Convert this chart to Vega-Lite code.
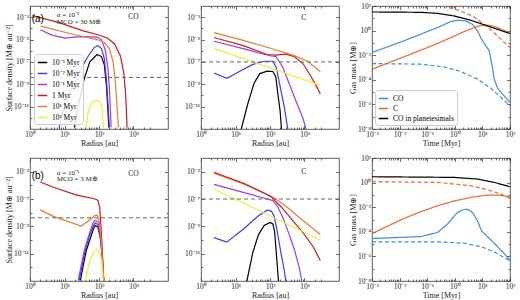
{
"$schema":"https://vega.github.io/schema/vega-lite/v6.json",
"padding":{"left":5,"top":1,"right":2,"bottom":0},
"bounds":"flush",
"columns":3,
"spacing":{"row":29,"column":33},
"resolve":{"scale":{"x":"independent","y":"independent","color":"independent","strokeDash":"independent"},"axis":{"x":"independent","y":"independent"},"legend":{"color":"independent"}},
"config":{
 "font":"Liberation Serif",
 "view":{"stroke":"#333","strokeWidth":0.8},
 "axis":{"labelFont":"Liberation Serif","titleFont":"Liberation Serif","labelFontSize":7.5,"titleFontSize":8,"titleFontWeight":"normal","domain":false,"grid":false,"tickColor":"#333","tickWidth":0.7,"labelPadding":5,"titlePadding":0,"labelColor":"#222","titleColor":"#222","labelFlush":false,"labelOverlap":false},
 "legend":{"labelFont":"Liberation Serif","labelFontSize":7.5,"symbolType":"stroke","symbolStrokeWidth":1.5,"symbolSize":90,"fillColor":"rgba(255,255,255,0.85)","strokeColor":"#ccc","padding":3,"cornerRadius":3,"rowPadding":2,"labelOffset":4,"orient":"none"}
},
"datasets":{
 "p1":[
  {"s":"10⁻³ Myr","r":19.3,"v":1.35e-13},{"s":"10⁻³ Myr","r":24.8,"v":1e-11},{"s":"10⁻³ Myr","r":36.6,"v":2.5e-9},{"s":"10⁻³ Myr","r":54,"v":1e-7},{"s":"10⁻³ Myr","r":88,"v":4.6e-7},{"s":"10⁻³ Myr","r":118,"v":3e-7},{"s":"10⁻³ Myr","r":143,"v":5.4e-8},{"s":"10⁻³ Myr","r":164,"v":7.4e-10},{"s":"10⁻³ Myr","r":181,"v":5.4e-12},{"s":"10⁻³ Myr","r":192,"v":1.35e-13},
  {"s":"10⁻² Myr","r":7.0,"v":1.35e-13},{"s":"10⁻² Myr","r":9.4,"v":5.4e-12},{"s":"10⁻² Myr","r":15.3,"v":2.15e-10},{"s":"10⁻² Myr","r":27.4,"v":1.58e-8},{"s":"10⁻² Myr","r":49,"v":3.4e-7},{"s":"10⁻² Myr","r":72.4,"v":1.9e-6},{"s":"10⁻² Myr","r":91.4,"v":2.93e-6},{"s":"10⁻² Myr","r":118,"v":1.58e-6},{"s":"10⁻² Myr","r":143,"v":1.85e-7},{"s":"10⁻² Myr","r":164,"v":2.5e-9},{"s":"10⁻² Myr","r":184,"v":1e-11},{"s":"10⁻² Myr","r":199,"v":1.35e-13},
  {"s":"10⁻¹ Myr","r":1.98,"v":7.6e-5},{"s":"10⁻¹ Myr","r":4.3,"v":2.5e-5},{"s":"10⁻¹ Myr","r":10.3,"v":1.36e-5},{"s":"10⁻¹ Myr","r":18.5,"v":1.63e-5},{"s":"10⁻¹ Myr","r":36.6,"v":1.85e-5},{"s":"10⁻¹ Myr","r":88,"v":1.63e-5},{"s":"10⁻¹ Myr","r":118,"v":1e-5},{"s":"10⁻¹ Myr","r":152,"v":1.17e-6},{"s":"10⁻¹ Myr","r":181,"v":2.9e-8},{"s":"10⁻¹ Myr","r":203,"v":2.15e-10},{"s":"10⁻¹ Myr","r":224,"v":1.35e-13},
  {"s":"1 Myr","r":1.17,"v":1.36e-3},{"s":"1 Myr","r":7.0,"v":3.3e-4},{"s":"1 Myr","r":33.2,"v":6.3e-5},{"s":"1 Myr","r":88,"v":2.84e-5},{"s":"1 Myr","r":174,"v":1.36e-5},{"s":"1 Myr","r":283,"v":4e-6},{"s":"1 Myr","r":417,"v":3.4e-7},{"s":"1 Myr","r":527,"v":8.6e-9},{"s":"1 Myr","r":593,"v":1.17e-10},{"s":"1 Myr","r":653,"v":1.35e-13},
  {"s":"10¹ Myr","r":2.05,"v":1.58e-4},{"s":"10¹ Myr","r":18.5,"v":2.84e-5},{"s":"10¹ Myr","r":88,"v":1e-5},{"s":"10¹ Myr","r":143,"v":5.4e-6},{"s":"10¹ Myr","r":199,"v":1.58e-6},{"s":"10¹ Myr","r":257,"v":1e-7},{"s":"10¹ Myr","r":300,"v":1.36e-9},{"s":"10¹ Myr","r":330,"v":1.85e-11},{"s":"10¹ Myr","r":364,"v":1.35e-13},
  {"s":"10² Myr","r":42,"v":1.35e-13},{"s":"10² Myr","r":49,"v":4e-12},{"s":"10² Myr","r":62,"v":2.1e-11},{"s":"10² Myr","r":88,"v":3.9e-11},{"s":"10² Myr","r":113,"v":2.1e-11},{"s":"10² Myr","r":125,"v":4e-12},{"s":"10² Myr","r":135,"v":1.35e-13}
 ],
 "p2":[
  {"s":"10⁻³ Myr","r":14.7,"v":9.8e-14},{"s":"10⁻³ Myr","r":22.4,"v":1.56e-11},{"s":"10⁻³ Myr","r":34.8,"v":1.33e-9},{"s":"10⁻³ Myr","r":51,"v":9e-9},{"s":"10⁻³ Myr","r":82.5,"v":1.49e-8},{"s":"10⁻³ Myr","r":121,"v":1.4e-8},{"s":"10⁻³ Myr","r":147,"v":4.7e-9},{"s":"10⁻³ Myr","r":171,"v":1.05e-10},{"s":"10⁻³ Myr","r":196,"v":4.4e-12},{"s":"10⁻³ Myr","r":215,"v":9.8e-14},
  {"s":"10⁻² Myr","r":2.37,"v":1.02e-8},{"s":"10⁻² Myr","r":5.6,"v":3.45e-9},{"s":"10⁻² Myr","r":14.7,"v":1.69e-8},{"s":"10⁻² Myr","r":31.6,"v":6e-8},{"s":"10⁻² Myr","r":68,"v":1.14e-7},{"s":"10⁻² Myr","r":121,"v":1.14e-7},{"s":"10⁻² Myr","r":152,"v":3.2e-8},{"s":"10⁻² Myr","r":196,"v":7e-10},{"s":"10⁻² Myr","r":261,"v":8.3e-12},{"s":"10⁻² Myr","r":329,"v":9.8e-14},
  {"s":"10⁻¹ Myr","r":2.37,"v":7e-6},{"s":"10⁻¹ Myr","r":17.8,"v":1.44e-6},{"s":"10⁻¹ Myr","r":100,"v":3.56e-7},{"s":"10⁻¹ Myr","r":152,"v":2.9e-7},{"s":"10⁻¹ Myr","r":237,"v":3.2e-8},{"s":"10⁻¹ Myr","r":383,"v":7e-10},{"s":"10⁻¹ Myr","r":619,"v":1.56e-11},{"s":"10⁻¹ Myr","r":908,"v":8.9e-13},{"s":"10⁻¹ Myr","r":1101,"v":9.8e-14},
  {"s":"1 Myr","r":2.37,"v":1.51e-5},{"s":"1 Myr","r":17.8,"v":2.7e-6},{"s":"1 Myr","r":82.5,"v":4.6e-7},{"s":"1 Myr","r":147,"v":4e-7},{"s":"1 Myr","r":287,"v":4.9e-7},{"s":"1 Myr","r":511,"v":2.9e-7},{"s":"1 Myr","r":908,"v":6.8e-8},{"s":"1 Myr","r":1468,"v":6.5e-9},{"s":"1 Myr","r":2154,"v":8e-10},{"s":"1 Myr","r":2873,"v":1.44e-10},
  {"s":"10¹ Myr","r":2.37,"v":4.2e-5},{"s":"10¹ Myr","r":17.8,"v":8e-6},{"s":"10¹ Myr","r":121,"v":1.44e-6},{"s":"10¹ Myr","r":464,"v":4e-7},{"s":"10¹ Myr","r":1211,"v":1.14e-7},{"s":"10¹ Myr","r":2873,"v":1.4e-8},
  {"s":"10² Myr","r":2.37,"v":1.64e-6},{"s":"10² Myr","r":2873,"v":8e-10}
 ],
 "p4":[
  {"s":"10⁻³ Myr","r":28.7,"v":1.1e-13},{"s":"10⁻³ Myr","r":42.4,"v":1.56e-11},{"s":"10⁻³ Myr","r":56.8,"v":1.45e-10},{"s":"10⁻³ Myr","r":70.3,"v":7.4e-10},{"s":"10⁻³ Myr","r":77.6,"v":1.16e-9},{"s":"10⁻³ Myr","r":92.5,"v":9.1e-10},{"s":"10⁻³ Myr","r":108,"v":1.86e-10},{"s":"10⁻³ Myr","r":122,"v":1.56e-11},{"s":"10⁻³ Myr","r":137,"v":1.1e-13},
  {"s":"10⁻² Myr","r":26.5,"v":1.1e-13},{"s":"10⁻² Myr","r":39.2,"v":1.56e-11},{"s":"10⁻² Myr","r":52.5,"v":1.86e-10},{"s":"10⁻² Myr","r":70.3,"v":1.22e-9},{"s":"10⁻² Myr","r":77.6,"v":1.73e-9},{"s":"10⁻² Myr","r":92.5,"v":1.35e-9},{"s":"10⁻² Myr","r":108,"v":2.4e-10},{"s":"10⁻² Myr","r":119,"v":1.56e-11},{"s":"10⁻² Myr","r":137,"v":1.1e-13},
  {"s":"10⁻¹ Myr","r":25,"v":1.1e-13},{"s":"10⁻¹ Myr","r":37,"v":1.56e-11},{"s":"10⁻¹ Myr","r":49.5,"v":1.86e-10},{"s":"10⁻¹ Myr","r":66.4,"v":1.73e-9},{"s":"10⁻¹ Myr","r":76,"v":2.83e-9},{"s":"10⁻¹ Myr","r":92.5,"v":2.2e-9},{"s":"10⁻¹ Myr","r":108,"v":3.05e-10},{"s":"10⁻¹ Myr","r":119,"v":1.56e-11},{"s":"10⁻¹ Myr","r":137,"v":1.1e-13},
  {"s":"1 Myr","r":1.98,"v":1.77e-6},{"s":"1 Myr","r":4.76,"v":7.2e-7},{"s":"1 Myr","r":22.7,"v":1.9e-7},{"s":"1 Myr","r":73,"v":1.05e-7},{"s":"1 Myr","r":92.5,"v":8.2e-8},{"s":"1 Myr","r":104,"v":2.63e-8},{"s":"1 Myr","r":112,"v":2.2e-9},{"s":"1 Myr","r":122,"v":4.2e-11},{"s":"1 Myr","r":137,"v":1.1e-13},
  {"s":"10¹ Myr","r":1.98,"v":1.6e-8},{"s":"10¹ Myr","r":4.76,"v":5.4e-9},{"s":"10¹ Myr","r":30.4,"v":1.05e-9},{"s":"10¹ Myr","r":49.5,"v":2.44e-9},{"s":"10¹ Myr","r":73,"v":5.9e-9},{"s":"10¹ Myr","r":89,"v":6.6e-9},{"s":"10¹ Myr","r":102,"v":2.2e-9},{"s":"10¹ Myr","r":115,"v":1.13e-10},{"s":"10¹ Myr","r":126,"v":3.5e-12},{"s":"10¹ Myr","r":137,"v":1.1e-13},
  {"s":"10² Myr","r":40.7,"v":1.1e-13},{"s":"10² Myr","r":54.6,"v":3.5e-12},{"s":"10² Myr","r":73,"v":1.56e-11},{"s":"10² Myr","r":89,"v":2e-11},{"s":"10² Myr","r":108,"v":9.5e-12},{"s":"10² Myr","r":122,"v":2.15e-12},{"s":"10² Myr","r":131,"v":1.1e-13}
 ],
 "p5":[
  {"s":"10⁻³ Myr","r":20.7,"v":6.9e-14},{"s":"10⁻³ Myr","r":31.6,"v":1.17e-11},{"s":"10⁻³ Myr","r":46.4,"v":2.5e-10},{"s":"10⁻³ Myr","r":68,"v":1.17e-9},{"s":"10⁻³ Myr","r":100,"v":1.95e-9},{"s":"10⁻³ Myr","r":121,"v":1.5e-9},{"s":"10⁻³ Myr","r":136,"v":4.2e-10},{"s":"10⁻³ Myr","r":152,"v":1.17e-11},{"s":"10⁻³ Myr","r":178,"v":6.9e-14},
  {"s":"10⁻² Myr","r":2.37,"v":1.5e-10},{"s":"10⁻² Myr","r":5.6,"v":7e-11},{"s":"10⁻² Myr","r":17.8,"v":7e-10},{"s":"10⁻² Myr","r":46.4,"v":6e-9},{"s":"10⁻² Myr","r":82.5,"v":1.5e-8},{"s":"10⁻² Myr","r":110,"v":1.29e-8},{"s":"10⁻² Myr","r":133,"v":5.4e-9},{"s":"10⁻² Myr","r":162,"v":4.2e-10},{"s":"10⁻² Myr","r":207,"v":1.17e-11},{"s":"10⁻² Myr","r":261,"v":5.4e-13},{"s":"10⁻² Myr","r":293,"v":6.9e-14},
  {"s":"10⁻¹ Myr","r":2.37,"v":1.17e-6},{"s":"10⁻¹ Myr","r":17.8,"v":2.9e-7},{"s":"10⁻¹ Myr","r":82.5,"v":1e-7},{"s":"10⁻¹ Myr","r":121,"v":7.7e-8},{"s":"10⁻¹ Myr","r":162,"v":3.2e-8},{"s":"10⁻¹ Myr","r":237,"v":4.2e-9},{"s":"10⁻¹ Myr","r":348,"v":3.2e-10},{"s":"10⁻¹ Myr","r":511,"v":1.95e-11},{"s":"10⁻¹ Myr","r":708,"v":9e-13},{"s":"10⁻¹ Myr","r":826,"v":1.17e-13},
  {"s":"10¹ Myr","r":2.37,"v":7.7e-6},{"s":"10¹ Myr","r":17.8,"v":1.23e-6},{"s":"10¹ Myr","r":82.5,"v":2.15e-7},{"s":"10¹ Myr","r":147,"v":1.05e-7},{"s":"10¹ Myr","r":316,"v":2.5e-8},{"s":"10¹ Myr","r":826,"v":3.2e-9},{"s":"10¹ Myr","r":2873,"v":2.5e-10},
  {"s":"1 Myr","r":2.37,"v":9e-6},{"s":"1 Myr","r":17.8,"v":1.36e-6},{"s":"1 Myr","r":82.5,"v":2.15e-7},{"s":"1 Myr","r":110,"v":1.43e-7},{"s":"1 Myr","r":215,"v":2.5e-8},{"s":"1 Myr","r":464,"v":2.5e-9},{"s":"1 Myr","r":1000,"v":2.5e-10},{"s":"1 Myr","r":1778,"v":3.2e-11},{"s":"1 Myr","r":2873,"v":3.2e-12},
  {"s":"10² Myr","r":2.37,"v":5.4e-7},{"s":"10² Myr","r":2873,"v":1e-10}
 ],
 "p3":[
  {"s":"CO","d":"solid","t":0.001,"m":0.0164},{"s":"CO","d":"solid","t":0.0142,"m":0.145},{"s":"CO","d":"solid","t":0.233,"m":1.75},{"s":"CO","d":"solid","t":0.71,"m":5.4},{"s":"CO","d":"solid","t":1.24,"m":6.9},{"s":"CO","d":"solid","t":2.5,"m":6.1},{"s":"CO","d":"solid","t":4.38,"m":3.27},{"s":"CO","d":"solid","t":6.65,"m":0.94},{"s":"CO","d":"solid","t":9.3,"m":0.198},{"s":"CO","d":"solid","t":13.4,"m":0.057},{"s":"CO","d":"solid","t":17.7,"m":0.0224},{"s":"CO","d":"solid","t":21.5,"m":2.5e-3},{"s":"CO","d":"solid","t":26.9,"m":1.13e-4},{"s":"CO","d":"solid","t":35.6,"m":2.1e-5},{"s":"CO","d":"solid","t":54,"m":6.9e-6},{"s":"CO","d":"solid","t":100,"m":1.45e-6},
  {"s":"CO","d":"dashed","t":0.001,"m":2.1e-3},{"s":"CO","d":"dashed","t":0.0575,"m":1.86e-3},{"s":"CO","d":"dashed","t":0.406,"m":1.13e-3},{"s":"CO","d":"dashed","t":1.64,"m":4.7e-4},{"s":"CO","d":"dashed","t":6.65,"m":1.13e-4},{"s":"CO","d":"dashed","t":20.3,"m":2.1e-5},{"s":"CO","d":"dashed","t":47,"m":3.7e-6},{"s":"CO","d":"dashed","t":100,"m":7.8e-7},
  {"s":"C","d":"solid","t":0.001,"m":7.3e-4},{"s":"C","d":"solid","t":0.0142,"m":7.3e-3},{"s":"C","d":"solid","t":0.233,"m":0.088},{"s":"C","d":"solid","t":2.17,"m":0.83},{"s":"C","d":"solid","t":6.65,"m":2.24},{"s":"C","d":"solid","t":13.4,"m":2.88},{"s":"C","d":"solid","t":26.9,"m":2.24},{"s":"C","d":"solid","t":100,"m":0.65},
  {"s":"C","d":"dashed","t":0.133,"m":254},{"s":"C","d":"dashed","t":0.54,"m":83},{"s":"C","d":"dashed","t":1.64,"m":39},{"s":"C","d":"dashed","t":5.0,"m":12.8},{"s":"C","d":"dashed","t":15.4,"m":1.98},{"s":"C","d":"dashed","t":41,"m":0.27},{"s":"C","d":"dashed","t":100,"m":0.042},
  {"s":"CO in planetesimals","d":"solid","t":0.001,"m":32.7},{"s":"CO in planetesimals","d":"solid","t":0.0575,"m":30.6},{"s":"CO in planetesimals","d":"solid","t":0.233,"m":25.4},{"s":"CO in planetesimals","d":"solid","t":0.94,"m":15.5},{"s":"CO in planetesimals","d":"solid","t":3.8,"m":6.9},{"s":"CO in planetesimals","d":"solid","t":15.4,"m":2.39},{"s":"CO in planetesimals","d":"solid","t":100,"m":0.57}
 ],
 "p6":[
  {"s":"CO","d":"solid","t":0.001,"m":2.8e-5},{"s":"CO","d":"solid","t":0.0575,"m":4.1e-5},{"s":"CO","d":"solid","t":0.233,"m":8.7e-5},{"s":"CO","d":"solid","t":0.54,"m":4.2e-4},{"s":"CO","d":"solid","t":1.08,"m":2.7e-3},{"s":"CO","d":"solid","t":1.7,"m":5.5e-3},{"s":"CO","d":"solid","t":2.5,"m":6.9e-3},{"s":"CO","d":"solid","t":3.5,"m":5.5e-3},{"s":"CO","d":"solid","t":4.38,"m":3.7e-3},{"s":"CO","d":"solid","t":6.65,"m":7.8e-4},{"s":"CO","d":"solid","t":9.3,"m":1.19e-4},{"s":"CO","d":"solid","t":13.4,"m":5.3e-5},{"s":"CO","d":"solid","t":26.9,"m":1.18e-5},{"s":"CO","d":"solid","t":54,"m":2.3e-6},{"s":"CO","d":"solid","t":100,"m":4.8e-7},
  {"s":"CO","d":"dashed","t":0.001,"m":1.51e-5},{"s":"CO","d":"dashed","t":0.233,"m":1.51e-5},{"s":"CO","d":"dashed","t":2.17,"m":1.18e-5},{"s":"CO","d":"dashed","t":8.8,"m":6.3e-6},{"s":"CO","d":"dashed","t":26.9,"m":2.3e-6},{"s":"CO","d":"dashed","t":100,"m":4.3e-7},
  {"s":"C","d":"solid","t":0.001,"m":7.2e-5},{"s":"C","d":"solid","t":0.0142,"m":1.21e-3},{"s":"C","d":"solid","t":0.0575,"m":4.2e-3},{"s":"C","d":"solid","t":0.233,"m":0.013},{"s":"C","d":"solid","t":1,"m":0.033},{"s":"C","d":"solid","t":3.8,"m":0.062},{"s":"C","d":"solid","t":15.4,"m":0.096},{"s":"C","d":"solid","t":41,"m":0.096},{"s":"C","d":"solid","t":100,"m":0.07},
  {"s":"C","d":"dashed","t":0.001,"m":1.18},{"s":"C","d":"dashed","t":0.233,"m":1.04},{"s":"C","d":"dashed","t":3.8,"m":0.56},{"s":"C","d":"dashed","t":15.4,"m":0.26},{"s":"C","d":"dashed","t":47,"m":0.116},{"s":"C","d":"dashed","t":100,"m":0.052},
  {"s":"CO in planetesimals","d":"solid","t":0.001,"m":3.0},{"s":"CO in planetesimals","d":"solid","t":0.94,"m":2.65},{"s":"CO in planetesimals","d":"solid","t":6.65,"m":1.94},{"s":"CO in planetesimals","d":"solid","t":26.9,"m":1.04},{"s":"CO in planetesimals","d":"solid","t":100,"m":0.46}
 ]
},
"concat":[
 {"width":138,"height":123,"resolve":{"axis":{"x":"independent","y":"independent"}},"layer":[
  {"data":{"name":"p1"},"mark":{"type":"line","clip":true,"strokeWidth":1.2},
   "encoding":{
    "x":{"field":"r","type":"quantitative","scale":{"type":"log","domain":[1,3100]},"axis":{"values":[1,2,3,4,5,6,7,8,9,10,20,30,40,50,60,70,80,90,100,200,300,400,500,600,700,800,900,1000,2000,3000],"title":"Radius [au]","tickSize":{"condition":{"test":"abs(log(datum.value)/LN10 - round(log(datum.value)/LN10)) < 0.001","value":-3.5},"value":-2},"labelExpr":"abs(log(datum.value)/LN10 - round(log(datum.value)/LN10)) < 0.001 ? '10' + replace(replace(replace(replace(replace(replace(replace(replace(replace(replace(replace('' + round(log(datum.value)/LN10), '-', '⁻'), regexp('1','g'), '¹'), '0', '⁰'), '2', '²'), '3', '³'), '4', '⁴'), '5', '⁵'), '6', '⁶'), '7', '⁷'), '8', '⁸'), '9', '⁹') : ''"}},
    "y":{"field":"v","type":"quantitative","scale":{"type":"log","domain":[3.2e-13,3.2e-3]},"axis":{"values":[1e-3,1e-4,1e-5,1e-6,1e-7,1e-8,1e-9,1e-10,1e-11,1e-12],"title":"Surface density [M⊕ au⁻²]","tickSize":{"condition":{"test":"round(log(datum.value)/LN10) % 2 != 0","value":-3.5},"value":-2},"labelExpr":"round(log(datum.value)/LN10) % 2 != 0 ? '10' + replace(replace(replace(replace(replace(replace(replace(replace(replace(replace(replace('' + round(log(datum.value)/LN10), '-', '⁻'), regexp('1','g'), '¹'), '0', '⁰'), '2', '²'), '3', '³'), '4', '⁴'), '5', '⁵'), '6', '⁶'), '7', '⁷'), '8', '⁸'), '9', '⁹') : ''"}},
    "color":{"field":"s","type":"nominal","scale":{"domain":["10⁻³ Myr","10⁻² Myr","10⁻¹ Myr","1 Myr","10¹ Myr","10² Myr"],"range":["#000000","#3c3cf0","#9a3cf0","#c81e1e","#f07a30","#f2ee3c"]},"legend":{"title":null,"orient":"none","legendX":4,"legendY":48}}
   }},
  {"data":{"name":"p1"},"mark":{"type":"point","opacity":0,"clip":true},
   "encoding":{
    "x":{"field":"r","type":"quantitative","axis":{"orient":"top","values":[1,2,3,4,5,6,7,8,9,10,20,30,40,50,60,70,80,90,100,200,300,400,500,600,700,800,900,1000,2000,3000],"title":null,"labels":false,"tickSize":{"condition":{"test":"abs(log(datum.value)/LN10 - round(log(datum.value)/LN10)) < 0.001","value":-3.5},"value":-2}}},
    "y":{"field":"v","type":"quantitative","axis":{"orient":"right","values":[1e-3,1e-4,1e-5,1e-6,1e-7,1e-8,1e-9,1e-10,1e-11,1e-12],"title":null,"labels":false,"tickSize":{"condition":{"test":"round(log(datum.value)/LN10) % 2 != 0","value":-3.5},"value":-2}}}
   }},
  {"data":{"values":[{"v":4.1e-9}]},"mark":{"type":"rule","strokeDash":[4,3],"color":"#666","strokeWidth":1},"encoding":{"y":{"field":"v","type":"quantitative","axis":null}}},
  {"data":{"values":[{"r":1.12,"v":7e-4,"txt":"(a)"}]},"mark":{"type":"text","font":"Liberation Sans","fontSize":10,"align":"left","baseline":"middle"},"encoding":{"x":{"field":"r","type":"quantitative","axis":null},"y":{"field":"v","type":"quantitative","axis":null},"text":{"field":"txt"}}},
  {"data":{"values":[{"r":6,"v":1.5e-3,"txt":"α = 10⁻¹"},{"r":6,"v":3.9e-4,"txt":"MCO = 30 M⊕"}]},"mark":{"type":"text","fontSize":7,"align":"left","baseline":"middle","color":"#222"},"encoding":{"x":{"field":"r","type":"quantitative","axis":null},"y":{"field":"v","type":"quantitative","axis":null},"text":{"field":"txt"}}},
  {"data":{"values":[{"r":1410,"v":1.1e-3,"txt":"CO"}]},"mark":{"type":"text","fontSize":7.5,"align":"right","baseline":"middle","color":"#222"},"encoding":{"x":{"field":"r","type":"quantitative","axis":null},"y":{"field":"v","type":"quantitative","axis":null},"text":{"field":"txt"}}}
 ]},
 {"width":138,"height":123,"resolve":{"axis":{"x":"independent","y":"independent"}},"layer":[
  {"data":{"name":"p2"},"mark":{"type":"line","clip":true,"strokeWidth":1.2},
   "encoding":{
    "x":{"field":"r","type":"quantitative","scale":{"type":"log","domain":[1,3100]},"axis":{"values":[1,2,3,4,5,6,7,8,9,10,20,30,40,50,60,70,80,90,100,200,300,400,500,600,700,800,900,1000,2000,3000],"title":"Radius [au]","tickSize":{"condition":{"test":"abs(log(datum.value)/LN10 - round(log(datum.value)/LN10)) < 0.001","value":-3.5},"value":-2},"labelExpr":"abs(log(datum.value)/LN10 - round(log(datum.value)/LN10)) < 0.001 ? '10' + replace(replace(replace(replace(replace(replace(replace(replace(replace(replace(replace('' + round(log(datum.value)/LN10), '-', '⁻'), regexp('1','g'), '¹'), '0', '⁰'), '2', '²'), '3', '³'), '4', '⁴'), '5', '⁵'), '6', '⁶'), '7', '⁷'), '8', '⁸'), '9', '⁹') : ''"}},
    "y":{"field":"v","type":"quantitative","scale":{"type":"log","domain":[3.2e-13,3.2e-3]},"axis":{"values":[1e-3,1e-4,1e-5,1e-6,1e-7,1e-8,1e-9,1e-10,1e-11,1e-12],"title":null,"tickSize":{"condition":{"test":"round(log(datum.value)/LN10) % 2 != 0","value":-3.5},"value":-2},"labelExpr":"round(log(datum.value)/LN10) % 2 != 0 ? '10' + replace(replace(replace(replace(replace(replace(replace(replace(replace(replace(replace('' + round(log(datum.value)/LN10), '-', '⁻'), regexp('1','g'), '¹'), '0', '⁰'), '2', '²'), '3', '³'), '4', '⁴'), '5', '⁵'), '6', '⁶'), '7', '⁷'), '8', '⁸'), '9', '⁹') : ''"}},
    "color":{"field":"s","type":"nominal","scale":{"domain":["10⁻³ Myr","10⁻² Myr","10⁻¹ Myr","1 Myr","10¹ Myr","10² Myr"],"range":["#000000","#3c3cf0","#9a3cf0","#c81e1e","#f07a30","#f2ee3c"]},"legend":null}
   }},
  {"data":{"name":"p2"},"mark":{"type":"point","opacity":0,"clip":true},
   "encoding":{
    "x":{"field":"r","type":"quantitative","axis":{"orient":"top","values":[1,2,3,4,5,6,7,8,9,10,20,30,40,50,60,70,80,90,100,200,300,400,500,600,700,800,900,1000,2000,3000],"title":null,"labels":false,"tickSize":{"condition":{"test":"abs(log(datum.value)/LN10 - round(log(datum.value)/LN10)) < 0.001","value":-3.5},"value":-2}}},
    "y":{"field":"v","type":"quantitative","axis":{"orient":"right","values":[1e-3,1e-4,1e-5,1e-6,1e-7,1e-8,1e-9,1e-10,1e-11,1e-12],"title":null,"labels":false,"tickSize":{"condition":{"test":"round(log(datum.value)/LN10) % 2 != 0","value":-3.5},"value":-2}}}
   }},
  {"data":{"values":[{"v":1e-7}]},"mark":{"type":"rule","strokeDash":[4,3],"color":"#666","strokeWidth":1},"encoding":{"y":{"field":"v","type":"quantitative","axis":null}}},
  {"data":{"values":[{"r":1120,"v":8.5e-4,"txt":"C"}]},"mark":{"type":"text","fontSize":7.5,"align":"right","baseline":"middle","color":"#222"},"encoding":{"x":{"field":"r","type":"quantitative","axis":null},"y":{"field":"v","type":"quantitative","axis":null},"text":{"field":"txt"}}}
 ]},
 {"width":138,"height":123,"resolve":{"axis":{"x":"independent","y":"independent"}},"layer":[
  {"data":{"name":"p3"},"mark":{"type":"line","clip":true,"strokeWidth":1.2},
   "encoding":{
    "x":{"field":"t","type":"quantitative","scale":{"type":"log","domain":[0.001,100]},"axis":{"values":[0.001,0.002,0.003,0.004,0.005,0.006,0.007,0.008,0.009,0.01,0.02,0.03,0.04,0.05,0.06,0.07,0.08,0.09,0.1,0.2,0.3,0.4,0.5,0.6,0.7,0.8,0.9,1,2,3,4,5,6,7,8,9,10,20,30,40,50,60,70,80,90,100],"title":"Time [Myr]","tickSize":{"condition":{"test":"abs(log(datum.value)/LN10 - round(log(datum.value)/LN10)) < 0.001","value":-3.5},"value":-2},"labelExpr":"abs(log(datum.value)/LN10 - round(log(datum.value)/LN10)) < 0.001 ? '10' + replace(replace(replace(replace(replace(replace(replace(replace(replace(replace(replace('' + round(log(datum.value)/LN10), '-', '⁻'), regexp('1','g'), '¹'), '0', '⁰'), '2', '²'), '3', '³'), '4', '⁴'), '5', '⁵'), '6', '⁶'), '7', '⁷'), '8', '⁸'), '9', '⁹') : ''"}},
    "y":{"field":"m","type":"quantitative","scale":{"type":"log","domain":[1e-8,100]},"axis":{"values":[100,10,1,0.1,0.01,1e-3,1e-4,1e-5,1e-6,1e-7,1e-8],"title":"Gas mass [M⊕]","tickSize":{"condition":{"test":"round(log(datum.value)/LN10) % 2 == 0","value":-3.5},"value":-2},"labelExpr":"round(log(datum.value)/LN10) % 2 == 0 ? '10' + replace(replace(replace(replace(replace(replace(replace(replace(replace(replace(replace('' + round(log(datum.value)/LN10), '-', '⁻'), regexp('1','g'), '¹'), '0', '⁰'), '2', '²'), '3', '³'), '4', '⁴'), '5', '⁵'), '6', '⁶'), '7', '⁷'), '8', '⁸'), '9', '⁹') : ''"}},
    "color":{"field":"s","type":"nominal","scale":{"domain":["CO","C","CO in planetesimals"],"range":["#3d8de0","#f0662e","#000000"]},"legend":{"title":null,"orient":"none","legendX":3,"legendY":84,"rowPadding":1}},
    "strokeDash":{"field":"d","type":"nominal","scale":{"domain":["solid","dashed"],"range":[[1,0],[4,2.5]]},"legend":null}
   }},
  {"data":{"name":"p3"},"mark":{"type":"point","opacity":0,"clip":true},
   "encoding":{
    "x":{"field":"t","type":"quantitative","axis":{"orient":"top","values":[0.001,0.002,0.003,0.004,0.005,0.006,0.007,0.008,0.009,0.01,0.02,0.03,0.04,0.05,0.06,0.07,0.08,0.09,0.1,0.2,0.3,0.4,0.5,0.6,0.7,0.8,0.9,1,2,3,4,5,6,7,8,9,10,20,30,40,50,60,70,80,90,100],"title":null,"labels":false,"tickSize":{"condition":{"test":"abs(log(datum.value)/LN10 - round(log(datum.value)/LN10)) < 0.001","value":-3.5},"value":-2}}},
    "y":{"field":"m","type":"quantitative","axis":{"orient":"right","values":[100,10,1,0.1,0.01,1e-3,1e-4,1e-5,1e-6,1e-7,1e-8],"title":null,"labels":false,"tickSize":{"condition":{"test":"round(log(datum.value)/LN10) % 2 == 0","value":-3.5},"value":-2}}}
   }}
 ]},
 {"width":138,"height":123,"resolve":{"axis":{"x":"independent","y":"independent"}},"layer":[
  {"data":{"name":"p4"},"mark":{"type":"line","clip":true,"strokeWidth":1.2},
   "encoding":{
    "x":{"field":"r","type":"quantitative","scale":{"type":"log","domain":[1,3100]},"axis":{"values":[1,2,3,4,5,6,7,8,9,10,20,30,40,50,60,70,80,90,100,200,300,400,500,600,700,800,900,1000,2000,3000],"title":"Radius [au]","tickSize":{"condition":{"test":"abs(log(datum.value)/LN10 - round(log(datum.value)/LN10)) < 0.001","value":-3.5},"value":-2},"labelExpr":"abs(log(datum.value)/LN10 - round(log(datum.value)/LN10)) < 0.001 ? '10' + replace(replace(replace(replace(replace(replace(replace(replace(replace(replace(replace('' + round(log(datum.value)/LN10), '-', '⁻'), regexp('1','g'), '¹'), '0', '⁰'), '2', '²'), '3', '³'), '4', '⁴'), '5', '⁵'), '6', '⁶'), '7', '⁷'), '8', '⁸'), '9', '⁹') : ''"}},
    "y":{"field":"v","type":"quantitative","scale":{"type":"log","domain":[1.78e-13,1.58e-5]},"axis":{"values":[1e-5,1e-6,1e-7,1e-8,1e-9,1e-10,1e-11,1e-12],"title":"Surface density [M⊕ au⁻²]","tickSize":{"condition":{"test":"round(log(datum.value)/LN10) % 2 != 0","value":-3.5},"value":-2},"labelExpr":"round(log(datum.value)/LN10) % 2 != 0 ? '10' + replace(replace(replace(replace(replace(replace(replace(replace(replace(replace(replace('' + round(log(datum.value)/LN10), '-', '⁻'), regexp('1','g'), '¹'), '0', '⁰'), '2', '²'), '3', '³'), '4', '⁴'), '5', '⁵'), '6', '⁶'), '7', '⁷'), '8', '⁸'), '9', '⁹') : ''"}},
    "color":{"field":"s","type":"nominal","scale":{"domain":["10⁻³ Myr","10⁻² Myr","10⁻¹ Myr","1 Myr","10¹ Myr","10² Myr"],"range":["#000000","#3c3cf0","#9a3cf0","#c81e1e","#f07a30","#f2ee3c"]},"legend":null}
   }},
  {"data":{"name":"p4"},"mark":{"type":"point","opacity":0,"clip":true},
   "encoding":{
    "x":{"field":"r","type":"quantitative","axis":{"orient":"top","values":[1,2,3,4,5,6,7,8,9,10,20,30,40,50,60,70,80,90,100,200,300,400,500,600,700,800,900,1000,2000,3000],"title":null,"labels":false,"tickSize":{"condition":{"test":"abs(log(datum.value)/LN10 - round(log(datum.value)/LN10)) < 0.001","value":-3.5},"value":-2}}},
    "y":{"field":"v","type":"quantitative","axis":{"orient":"right","values":[1e-5,1e-6,1e-7,1e-8,1e-9,1e-10,1e-11,1e-12],"title":null,"labels":false,"tickSize":{"condition":{"test":"round(log(datum.value)/LN10) % 2 != 0","value":-3.5},"value":-2}}}
   }},
  {"data":{"values":[{"v":4.2e-9}]},"mark":{"type":"rule","strokeDash":[4,3],"color":"#666","strokeWidth":1},"encoding":{"y":{"field":"v","type":"quantitative","axis":null}}},
  {"data":{"values":[{"r":1.12,"v":4.8e-6,"txt":"(b)"}]},"mark":{"type":"text","font":"Liberation Sans","fontSize":10,"align":"left","baseline":"middle"},"encoding":{"x":{"field":"r","type":"quantitative","axis":null},"y":{"field":"v","type":"quantitative","axis":null},"text":{"field":"txt"}}},
  {"data":{"values":[{"r":6,"v":7.5e-6,"txt":"α = 10⁻¹"},{"r":6,"v":2.7e-6,"txt":"MCO = 3 M⊕"}]},"mark":{"type":"text","fontSize":7,"align":"left","baseline":"middle","color":"#222"},"encoding":{"x":{"field":"r","type":"quantitative","axis":null},"y":{"field":"v","type":"quantitative","axis":null},"text":{"field":"txt"}}},
  {"data":{"values":[{"r":1410,"v":6.8e-6,"txt":"CO"}]},"mark":{"type":"text","fontSize":7.5,"align":"right","baseline":"middle","color":"#222"},"encoding":{"x":{"field":"r","type":"quantitative","axis":null},"y":{"field":"v","type":"quantitative","axis":null},"text":{"field":"txt"}}}
 ]},
 {"width":138,"height":123,"resolve":{"axis":{"x":"independent","y":"independent"}},"layer":[
  {"data":{"name":"p5"},"mark":{"type":"line","clip":true,"strokeWidth":1.2},
   "encoding":{
    "x":{"field":"r","type":"quantitative","scale":{"type":"log","domain":[1,3100]},"axis":{"values":[1,2,3,4,5,6,7,8,9,10,20,30,40,50,60,70,80,90,100,200,300,400,500,600,700,800,900,1000,2000,3000],"title":"Radius [au]","tickSize":{"condition":{"test":"abs(log(datum.value)/LN10 - round(log(datum.value)/LN10)) < 0.001","value":-3.5},"value":-2},"labelExpr":"abs(log(datum.value)/LN10 - round(log(datum.value)/LN10)) < 0.001 ? '10' + replace(replace(replace(replace(replace(replace(replace(replace(replace(replace(replace('' + round(log(datum.value)/LN10), '-', '⁻'), regexp('1','g'), '¹'), '0', '⁰'), '2', '²'), '3', '³'), '4', '⁴'), '5', '⁵'), '6', '⁶'), '7', '⁷'), '8', '⁸'), '9', '⁹') : ''"}},
    "y":{"field":"v","type":"quantitative","scale":{"type":"log","domain":[1.78e-13,1.58e-5]},"axis":{"values":[1e-5,1e-6,1e-7,1e-8,1e-9,1e-10,1e-11,1e-12],"title":null,"tickSize":{"condition":{"test":"round(log(datum.value)/LN10) % 2 != 0","value":-3.5},"value":-2},"labelExpr":"round(log(datum.value)/LN10) % 2 != 0 ? '10' + replace(replace(replace(replace(replace(replace(replace(replace(replace(replace(replace('' + round(log(datum.value)/LN10), '-', '⁻'), regexp('1','g'), '¹'), '0', '⁰'), '2', '²'), '3', '³'), '4', '⁴'), '5', '⁵'), '6', '⁶'), '7', '⁷'), '8', '⁸'), '9', '⁹') : ''"}},
    "color":{"field":"s","type":"nominal","scale":{"domain":["10⁻³ Myr","10⁻² Myr","10⁻¹ Myr","1 Myr","10¹ Myr","10² Myr"],"range":["#000000","#3c3cf0","#9a3cf0","#c81e1e","#f07a30","#f2ee3c"]},"legend":null}
   }},
  {"data":{"name":"p5"},"mark":{"type":"point","opacity":0,"clip":true},
   "encoding":{
    "x":{"field":"r","type":"quantitative","axis":{"orient":"top","values":[1,2,3,4,5,6,7,8,9,10,20,30,40,50,60,70,80,90,100,200,300,400,500,600,700,800,900,1000,2000,3000],"title":null,"labels":false,"tickSize":{"condition":{"test":"abs(log(datum.value)/LN10 - round(log(datum.value)/LN10)) < 0.001","value":-3.5},"value":-2}}},
    "y":{"field":"v","type":"quantitative","axis":{"orient":"right","values":[1e-5,1e-6,1e-7,1e-8,1e-9,1e-10,1e-11,1e-12],"title":null,"labels":false,"tickSize":{"condition":{"test":"round(log(datum.value)/LN10) % 2 != 0","value":-3.5},"value":-2}}}
   }},
  {"data":{"values":[{"v":1e-7}]},"mark":{"type":"rule","strokeDash":[4,3],"color":"#666","strokeWidth":1},"encoding":{"y":{"field":"v","type":"quantitative","axis":null}}},
  {"data":{"values":[{"r":1120,"v":8.7e-6,"txt":"C"}]},"mark":{"type":"text","fontSize":7.5,"align":"right","baseline":"middle","color":"#222"},"encoding":{"x":{"field":"r","type":"quantitative","axis":null},"y":{"field":"v","type":"quantitative","axis":null},"text":{"field":"txt"}}}
 ]},
 {"width":138,"height":123,"resolve":{"axis":{"x":"independent","y":"independent"}},"layer":[
  {"data":{"name":"p6"},"mark":{"type":"line","clip":true,"strokeWidth":1.2},
   "encoding":{
    "x":{"field":"t","type":"quantitative","scale":{"type":"log","domain":[0.001,100]},"axis":{"values":[0.001,0.002,0.003,0.004,0.005,0.006,0.007,0.008,0.009,0.01,0.02,0.03,0.04,0.05,0.06,0.07,0.08,0.09,0.1,0.2,0.3,0.4,0.5,0.6,0.7,0.8,0.9,1,2,3,4,5,6,7,8,9,10,20,30,40,50,60,70,80,90,100],"title":"Time [Myr]","tickSize":{"condition":{"test":"abs(log(datum.value)/LN10 - round(log(datum.value)/LN10)) < 0.001","value":-3.5},"value":-2},"labelExpr":"abs(log(datum.value)/LN10 - round(log(datum.value)/LN10)) < 0.001 ? '10' + replace(replace(replace(replace(replace(replace(replace(replace(replace(replace(replace('' + round(log(datum.value)/LN10), '-', '⁻'), regexp('1','g'), '¹'), '0', '⁰'), '2', '²'), '3', '³'), '4', '⁴'), '5', '⁵'), '6', '⁶'), '7', '⁷'), '8', '⁸'), '9', '⁹') : ''"}},
    "y":{"field":"m","type":"quantitative","scale":{"type":"log","domain":[1e-8,100]},"axis":{"values":[100,10,1,0.1,0.01,1e-3,1e-4,1e-5,1e-6,1e-7,1e-8],"title":"Gas mass [M⊕]","tickSize":{"condition":{"test":"round(log(datum.value)/LN10) % 2 == 0","value":-3.5},"value":-2},"labelExpr":"round(log(datum.value)/LN10) % 2 == 0 ? '10' + replace(replace(replace(replace(replace(replace(replace(replace(replace(replace(replace('' + round(log(datum.value)/LN10), '-', '⁻'), regexp('1','g'), '¹'), '0', '⁰'), '2', '²'), '3', '³'), '4', '⁴'), '5', '⁵'), '6', '⁶'), '7', '⁷'), '8', '⁸'), '9', '⁹') : ''"}},
    "color":{"field":"s","type":"nominal","scale":{"domain":["CO","C","CO in planetesimals"],"range":["#3d8de0","#f0662e","#000000"]},"legend":null},
    "strokeDash":{"field":"d","type":"nominal","scale":{"domain":["solid","dashed"],"range":[[1,0],[4,2.5]]},"legend":null}
   }},
  {"data":{"name":"p6"},"mark":{"type":"point","opacity":0,"clip":true},
   "encoding":{
    "x":{"field":"t","type":"quantitative","axis":{"orient":"top","values":[0.001,0.002,0.003,0.004,0.005,0.006,0.007,0.008,0.009,0.01,0.02,0.03,0.04,0.05,0.06,0.07,0.08,0.09,0.1,0.2,0.3,0.4,0.5,0.6,0.7,0.8,0.9,1,2,3,4,5,6,7,8,9,10,20,30,40,50,60,70,80,90,100],"title":null,"labels":false,"tickSize":{"condition":{"test":"abs(log(datum.value)/LN10 - round(log(datum.value)/LN10)) < 0.001","value":-3.5},"value":-2}}},
    "y":{"field":"m","type":"quantitative","axis":{"orient":"right","values":[100,10,1,0.1,0.01,1e-3,1e-4,1e-5,1e-6,1e-7,1e-8],"title":null,"labels":false,"tickSize":{"condition":{"test":"round(log(datum.value)/LN10) % 2 == 0","value":-3.5},"value":-2}}}
   }}
 ]}
]
}
